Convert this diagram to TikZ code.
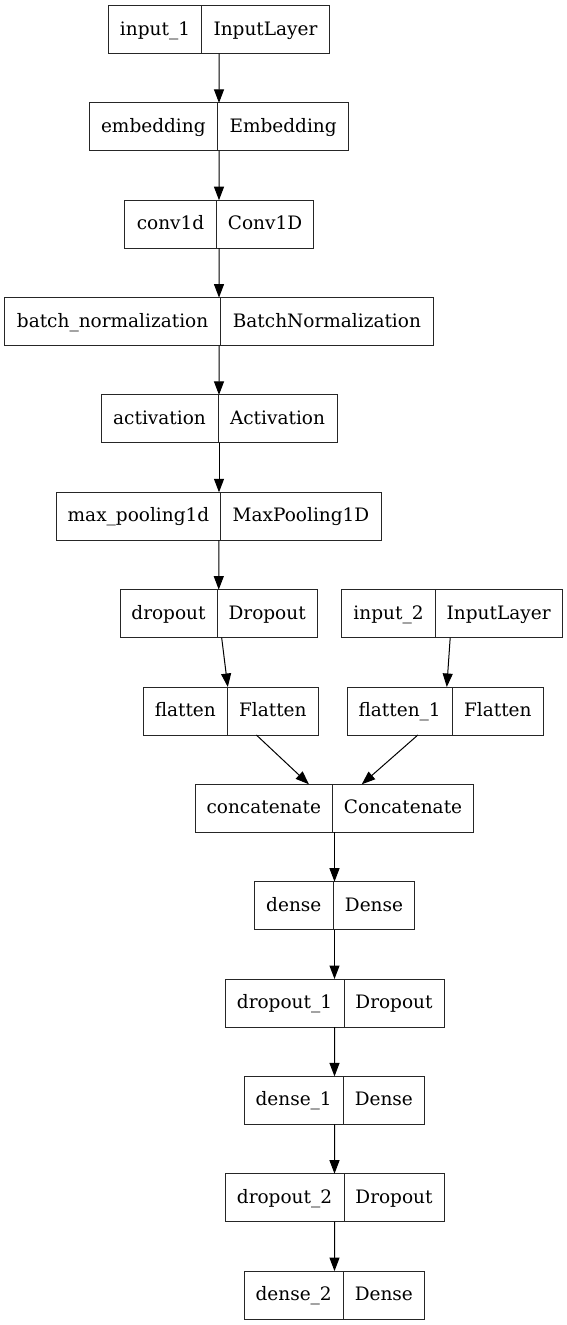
\documentclass[tikz,border=0pt]{standalone}
\usepackage{fontspec}
\setmainfont{DejaVu Serif}
\usetikzlibrary{arrows.meta,fit}
\tikzset{
  fieldbox/.style={draw=black!85, line width=1pt, minimum height=48pt, inner sep=0pt, outer sep=0pt,
    anchor=north west, text height=14.5pt, text depth=3.5pt, font=\fontsize{18.5}{20}\selectfont},
  recbox/.style={inner sep=0pt, outer sep=0pt},
  edge/.style={draw=black, line width=1pt, -{Triangle[length=13.5pt,width=10pt]}}
}
% name, left, split, right, top, left text, right text
\newcommand{\recnode}[7]{%
  \node[fieldbox, minimum width={(#3-#2)*1pt}] (#1l) at (#2,#5) {#6};
  \node[fieldbox, minimum width={(#4-#3)*1pt}] (#1r) at (#3,#5) {#7};
  \node[recbox, fit=(#1l)(#1r)] (#1) {};
}
\begin{document}
\begin{tikzpicture}[x=1pt,y=-1pt]
\useasboundingbox (0,0) rectangle (567,1325);
\recnode{in1}{108.5}{201.5}{329.5}{5.5}{input\_1}{InputLayer}
\recnode{emb}{89.2}{217.5}{348.8}{102.9}{embedding}{Embedding}
\recnode{conv}{124.5}{216.5}{313.5}{200.2}{conv1d}{Conv1D}
\recnode{bn}{4.7}{220.5}{433.3}{297.6}{batch\_normalization}{BatchNormalization}
\recnode{act}{101}{218}{337}{394.9}{activation}{Activation}
\recnode{mp}{56.5}{220.5}{381.5}{492.3}{max\_pooling1d}{MaxPooling1D}
\recnode{dr}{120}{217}{317.3}{589.6}{dropout}{Dropout}
\recnode{in2}{341.7}{435.3}{562}{589.6}{input\_2}{InputLayer}
\recnode{fl}{143.3}{227.3}{318.3}{687}{flatten}{Flatten}
\recnode{fla}{347}{452.3}{543.3}{687}{flatten\_1}{Flatten}
\recnode{cat}{195.3}{332.3}{473.7}{784.3}{concatenate}{Concatenate}
\recnode{de}{254.3}{333.3}{414.7}{881.7}{dense}{Dense}
\recnode{dra}{225}{344}{444}{979}{dropout\_1}{Dropout}
\recnode{dea}{244.3}{343}{424.7}{1076.4}{dense\_1}{Dense}
\recnode{drb}{225}{344}{444}{1173.7}{dropout\_2}{Dropout}
\recnode{deb}{244.3}{343}{424.7}{1271.1}{dense\_2}{Dense}
\draw[edge] (in1) -- (emb);
\draw[edge] (emb) -- (conv);
\draw[edge] (conv) -- (bn);
\draw[edge] (bn) -- (act);
\draw[edge] (act) -- (mp);
\draw[edge] (mp) -- (dr);
\draw[edge] (dr) -- (fl);
\draw[edge] (in2) -- (fla);
\draw[edge] (fl) -- (cat);
\draw[edge] (fla) -- (cat);
\draw[edge] (cat) -- (de);
\draw[edge] (de) -- (dra);
\draw[edge] (dra) -- (dea);
\draw[edge] (dea) -- (drb);
\draw[edge] (drb) -- (deb);
\end{tikzpicture}
\end{document}
